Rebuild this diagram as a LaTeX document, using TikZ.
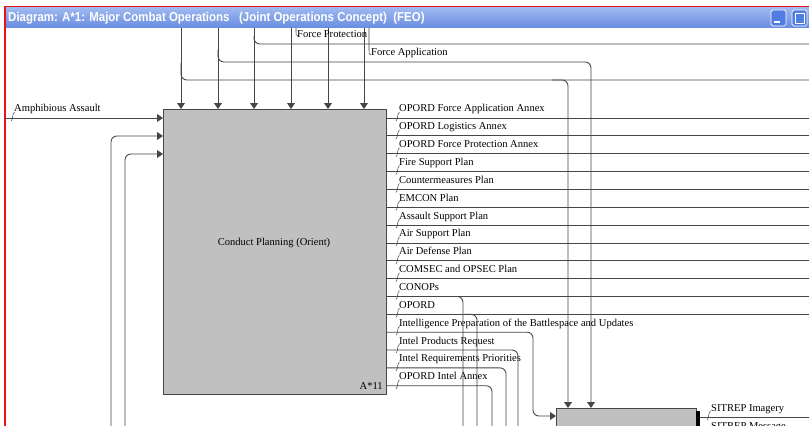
\documentclass[tikz,border=0pt]{standalone}
\usepackage{fontspec}
\setmainfont{Liberation Serif}
\newfontfamily\barfont[FakeStretch=0.89]{Liberation Sans}
\usetikzlibrary{arrows.meta,positioning}
\definecolor{barlight}{RGB}{160,186,240}
\definecolor{bardark}{RGB}{104,140,224}
\definecolor{btnblue}{RGB}{80,125,225}
\definecolor{actfill}{RGB}{192,192,192}
\definecolor{wire}{RGB}{70,70,70}
\definecolor{frame}{RGB}{232,20,20}

\begin{document}
\begin{tikzpicture}[x=0.03cm,y=-0.03cm,
  wire/.style={draw=wire,line width=0.75pt,rounded corners=5pt},
  feed/.style={wire,-{Triangle[width=6.5pt,length=5pt]}},
  leader/.style={draw=wire,line width=0.45pt},
  lbl/.style={font=\fontsize{9}{10}\selectfont,inner sep=0pt,anchor=base west},
  act/.style={draw=wire,fill=actfill,line width=0.8pt,inner sep=0pt,anchor=north west},
  squig/.pic={\draw[leader] (-1,3) .. controls (1,2) and (0,-4) .. (2.5,-6);}]
  \useasboundingbox (0,0) rectangle (809,426);
  \clip (0,0) rectangle (809,426);
  \fill[white] (0,0) rectangle (809,426);
  \shade[top color=barlight,bottom color=bardark] (5,7) rectangle (815,28);
  \node[font=\barfont\bfseries\fontsize{11}{13}\selectfont,text=white,anchor=west,inner sep=0pt] (title) at (8,18)
    {Diagram: A*1: Major Combat Operations\ \ \ (Joint Operations Concept)\ \ (FEO)};
  \draw[white,fill=btnblue,rounded corners=1.5pt,line width=0.6pt] (771,10) rectangle (786,26);
  \draw[white,line width=1.4pt] (774,22) -- (780,22);
  \draw[white,fill=btnblue,rounded corners=1.5pt,line width=0.6pt] (792,10) rectangle (807,26);
  \draw[white,line width=0.8pt] (795,13) rectangle (804,23);
  \draw[frame,line width=1.5pt] (5,430) -- (5,6.5) -- (815,6.5);

  \node[act,minimum width=6.69cm,minimum height=8.55cm] (a11) at (163,109) {};
  \node[lbl,anchor=center] (a11name) at (274,243) {Conduct Planning (Orient)};
  \node[lbl,anchor=base east] (a11id) at (383,389) {A*11};
  \node[act,minimum width=4.2cm,minimum height=1.5cm] (a12) at (556,408) {};
  \fill[black] (696,411) rectangle (700,440);

  \foreach \x [count=\n] in {181,218,254,291,328,364}
    \draw[feed] (\x,28) coordinate (c\n) -- (c\n |- a11.north);
  \coordinate (m80) at (815,80);
  \coordinate (m44) at (815,44);
  \coordinate (j62) at (591,62);
  \coordinate (j80) at (568,80);
  \draw[wire] (c1) ++(0,35) |- (m80);
  \draw[wire] (c3) ++(0,8) |- (m44);
  \draw[feed] (c2) ++(0,22) |- (j62) -- (j62 |- a12.north);
  \draw[feed] (j80) ++(-16,0) -| (j80 |- a12.north);
  \node[lbl] (fprot) at (297,38) {Force Protection};
  \node[lbl] (fapp) at (371,56) {Force Application};
  \draw[leader] (296,28) -- (296,32) .. controls (296,35) .. (298,36);
  \draw[leader] (369,28) -- (369,50) .. controls (369,54) .. (371,55);

  \coordinate (i1) at (5,118);
  \coordinate (i2) at (111,440);
  \coordinate (i3) at (125,440);
  \path (a11.north west) ++(0,27) coordinate (i2e) ++(0,18) coordinate (i3e);
  \draw[feed] (i1) -- (i1 -| a11.west);
  \draw[feed] (i2) |- (i2e);
  \draw[feed] (i3) |- (i3e);
  \node[lbl] (amph) at (14,112) {Amphibious Assault};
  \pic at (12,118) {squig};

  \coordinate (edge) at (815,0);
  \foreach \lab [count=\i] in {OPORD Force Application Annex,OPORD Logistics Annex,
      OPORD Force Protection Annex,Fire Support Plan,Countermeasures Plan,EMCON Plan,
      Assault Support Plan,Air Support Plan,Air Defense Plan,COMSEC and OPSEC Plan,
      CONOPs,OPORD,Intelligence Preparation of the Battlespace and Updates,
      Intel Products Request,Intel Requirements Priorities,OPORD Intel Annex}{
    \path (a11.north east) ++(0,{9+17.85*(\i-1)}) coordinate (o\i);
    \node[lbl] (out\i) at ([shift={(12,-6)}]o\i) {\lab};
    \pic at ([shift={(10,0)}]o\i) {squig};
  }
  \foreach \i in {1,...,12}
    \draw[wire] (o\i) -- (o\i -| edge);
  \draw[wire] (o11) ++(62,0) -| (463,440);
  \draw[wire] (o12) ++(78,0) -| (477,440);
  \coordinate (k13) at (533,416);
  \draw[feed] (o13) -| (k13) -- (k13 -| a12.west);
  \foreach \i/\x in {14/518,15/506,16/492}
    \draw[wire] (o\i) -| (\x,440);

  \coordinate (s1) at (700,417);
  \draw[wire] (s1) -- (s1 -| edge);
  \node[lbl] (sit1) at (711,411) {SITREP Imagery};
  \pic at (708,417) {squig};
  \node[lbl] (sit2) at (711,429) {SITREP Message};
\end{tikzpicture}
\end{document}
